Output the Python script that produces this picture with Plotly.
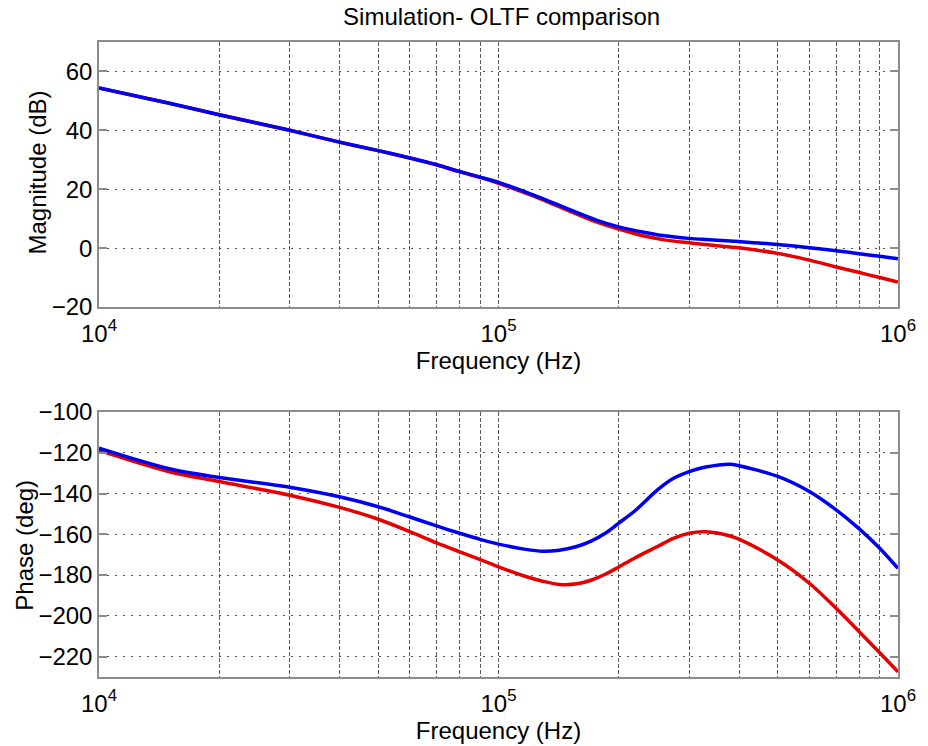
import plotly.graph_objects as go

freq_mag = [1e4, 1.5e4, 2e4, 3e4, 4e4, 5e4, 6e4, 7e4, 8e4, 9e4, 1e5, 1.22e5, 1.48e5,
            1.75e5, 2e5, 2.33e5, 2.6e5, 3e5, 3.3e5, 3.8e5, 4e5, 5e5, 6e5, 7e5, 8e5, 9e5, 1e6]
mag_blue = [54.4, 49.2, 45.3, 40.0, 36.0, 33.1, 30.6, 28.3, 26.0, 24.1, 22.3, 18.1, 13.5,
            9.6, 7.2, 5.3, 4.2, 3.3, 2.9, 2.4, 2.2, 1.2, 0.1, -0.9, -1.9, -2.8, -3.6]
mag_red = [54.4, 49.2, 45.3, 40.0, 36.0, 33.1, 30.6, 28.3, 25.9, 24.0, 22.0, 17.7, 13.0,
           9.0, 6.5, 4.0, 2.8, 1.8, 1.2, 0.4, 0.1, -1.8, -4.1, -6.4, -8.3, -10.0, -11.5]

freq_ph = [1e4, 1.5e4, 2e4, 3e4, 4e4, 5e4, 6e4, 7e4, 8e4, 9e4, 1e5, 1.17e5, 1.29e5, 1.42e5,
           1.57e5, 1.71e5, 1.85e5, 2e5, 2.2e5, 2.5e5, 2.75e5, 3e5, 3.3e5, 3.8e5, 4e5, 5e5,
           6e5, 7e5, 8e5, 9e5, 1e6]
ph_blue = [-117.7, -127.8, -132.1, -136.9, -141.6, -146.5, -151.5, -155.9, -159.5, -162.5,
           -164.8, -167.4, -168.3, -167.8, -166.0, -163.2, -159.5, -154.5, -148.3, -138.2,
           -132.4, -129.2, -127.0, -125.6, -126.4, -131.6, -139.0, -148.0, -157.3, -166.8,
           -176.7]
ph_red = [-118.9, -129.3, -134.1, -140.8, -146.8, -152.6, -158.7, -164.2, -168.6, -172.4,
          -176.0, -180.7, -183.0, -184.6, -184.3, -182.4, -179.6, -176.0, -171.5, -166.0,
          -161.9, -159.5, -158.8, -160.8, -162.4, -172.6, -184.0, -196.3, -207.8, -218.1,
          -227.5]

mag_ticks = [-20, 0, 20, 40, 60]
ph_ticks = [-220, -200, -180, -160, -140, -120, -100]
x_tickvals = [1e4, 1e5, 1e6]
x_ticktext = ["10<sup>4</sup>", "10<sup>5</sup>", "10<sup>6</sup>"]

RED = "rgb(230,0,0)"
BLUE = "rgb(0,0,240)"
FONT = "Liberation Sans, Arial, sans-serif"
FS = 24

fig = go.Figure()
line_kw = dict(shape="spline", smoothing=0.9, width=3.5)
fig.add_trace(go.Scatter(x=freq_mag, y=mag_red, mode="lines", line=dict(color=RED, **line_kw),
                         xaxis="x", yaxis="y", showlegend=False))
fig.add_trace(go.Scatter(x=freq_mag, y=mag_blue, mode="lines", line=dict(color=BLUE, **line_kw),
                         xaxis="x", yaxis="y", showlegend=False))
fig.add_trace(go.Scatter(x=freq_ph, y=ph_red, mode="lines", line=dict(color=RED, **line_kw),
                         xaxis="x2", yaxis="y2", showlegend=False))
fig.add_trace(go.Scatter(x=freq_ph, y=ph_blue, mode="lines", line=dict(color=BLUE, **line_kw),
                         xaxis="x2", yaxis="y2", showlegend=False))

VGRID = "rgb(90,90,90)"
HGRID = "rgb(80,80,80)"
BORDER = "rgb(140,140,140)"

def xax(anchor):
    return dict(
        type="log", range=[4, 6], anchor=anchor,
        tickmode="array", tickvals=x_tickvals, ticktext=x_ticktext,
        showgrid=True, gridcolor=VGRID, gridwidth=1, griddash="4px,2px",
        minor=dict(dtick="D1", showgrid=True, gridcolor=VGRID, gridwidth=1,
                   griddash="4px,2px", ticks=""),
        showline=True, linecolor=BORDER, linewidth=1.5, mirror=True,
        ticks="", ticklabelstandoff=4,
        tickfont=dict(family=FONT, size=FS, color="black"),
        title=dict(text="Frequency (Hz)", font=dict(family=FONT, size=FS, color="black"),
                   standoff=0),
        zeroline=False,
    )

def yax(anchor, rng, ticks, domain):
    return dict(
        range=rng, anchor=anchor, domain=domain,
        tickmode="array", tickvals=ticks,
        showgrid=True, gridcolor=HGRID, gridwidth=1, griddash="2px,6px",
        showline=True, linecolor=BORDER, linewidth=1.5, mirror="ticks",
        ticks="inside", ticklen=8, tickcolor=BORDER, tickwidth=1.5,
        ticklabelstandoff=0,
        tickfont=dict(family=FONT, size=FS, color="black"),
        zeroline=False,
    )

PLOT_W = 928 - 99 - 23
PLOT_H = 746 - 42 - 69

def px_x(px):
    return (px - 99) / PLOT_W

def px_y(py):
    return (746 - 69 - py) / PLOT_H

fig.update_layout(
    width=928, height=746,
    margin=dict(l=99, r=23, t=42, b=69),
    paper_bgcolor="white", plot_bgcolor="white",
    xaxis=xax("y"),
    yaxis=yax("x", [-20, 70], mag_ticks, [0.5827, 1.0]),
    xaxis2=xax("y2"),
    yaxis2=yax("x2", [-230, -100], ph_ticks, [0.0, 0.4173]),
    title=dict(text="Simulation- OLTF comparison", x=0.5405, xanchor="center",
               y=1 - 17 / 746, yanchor="middle",
               font=dict(family=FONT, size=FS, color="black")),
    annotations=[
        dict(text="Magnitude (dB)", xref="paper", yref="paper", x=px_x(36), y=px_y(173),
             xanchor="center", yanchor="middle", textangle=-90, showarrow=False,
             font=dict(family=FONT, size=FS, color="black")),
        dict(text="Phase (deg)", xref="paper", yref="paper", x=px_x(23), y=px_y(545),
             xanchor="center", yanchor="middle", textangle=-90, showarrow=False,
             font=dict(family=FONT, size=FS, color="black")),
    ],
)

fig.write_html("out.html")
